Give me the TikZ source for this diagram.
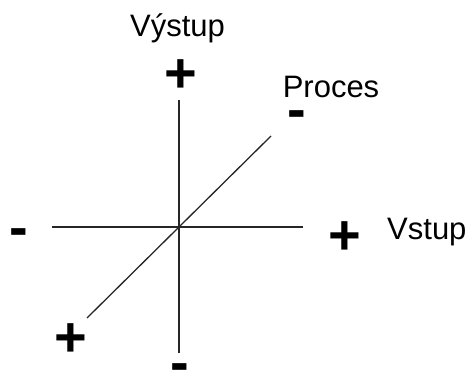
\documentclass[tikz,border=0pt]{standalone}
\usepackage{fontspec}
\setmainfont{Liberation Sans}
\begin{document}
\begin{tikzpicture}[x=1pt, y=-1pt,
  axis/.style={line width=1.3pt, black!85},
  sign/.style={inner sep=0pt, font=\fontsize{56}{60}\selectfont\bfseries},
  label/.style={inner sep=0pt, anchor=base, font=\fontsize{31}{36}\selectfont}]
\useasboundingbox (0,0) rectangle (468,371);
\node[label] (out) at (177.5, 37) {Výstup};
\node[label] (proc) at (331, 98) {Proces};
\node[label, anchor=base west] (in) at (387, 240) {Vstup};
\node[sign] (outp) at (181, 76) {+};
\node[sign] (procm) at (297, 120) {-};
\node[sign] (inm) at (19, 238) {-};
\node[sign] (inp) at (345, 238) {+};
\node[sign] (procp) at (71, 340) {+};
\node[sign] (outm) at (180, 373) {-};
\coordinate (vtop) at (179, 100);
\coordinate (vbot) at (179, 353);
\coordinate (hleft) at (52, 227);
\coordinate (hright) at (303, 227);
\coordinate (dlow) at (87, 318);
\coordinate (dhigh) at (271, 136);
\draw[axis] (vtop) -- (vbot);
\draw[axis] (hleft) -- (hright);
\draw[axis] (dlow) -- (dhigh);
\end{tikzpicture}
\end{document}
